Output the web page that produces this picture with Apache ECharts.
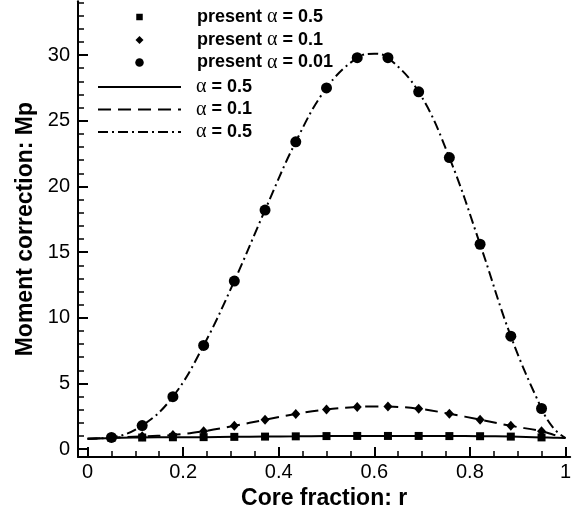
<!DOCTYPE html>
<html>
<head>
<meta charset="utf-8">
<script src="https://cdn.jsdelivr.net/npm/echarts@6/dist/echarts.min.js"></script>
<style>
html,body{margin:0;padding:0;background:#fff;}
#chart{width:574px;height:515px;}
</style>
</head>
<body>
<div id="chart"></div>
<script>
// ---- data ----
const rPoints = [0.05, 0.1143, 0.1786, 0.2429, 0.3071, 0.3714, 0.4357, 0.5, 0.5643, 0.6286, 0.6929, 0.7571, 0.8214, 0.8857, 0.95];
const presentA05  = [0.86, 0.89, 0.91, 0.92, 0.94, 0.96, 0.98, 1.0, 1.01, 1.01, 1.01, 1.0, 0.99, 0.96, 0.9];
const presentA01  = [0.88, 0.98, 1.08, 1.37, 1.78, 2.24, 2.68, 3.03, 3.22, 3.25, 3.08, 2.70, 2.25, 1.78, 1.37];
const presentA001 = [0.9, 1.8, 4.0, 7.9, 12.8, 18.2, 23.4, 27.5, 29.8, 29.8, 27.2, 22.2, 15.6, 8.6, 3.1];

const rCurve = [0, 0.05, 0.1143, 0.1786, 0.2429, 0.3071, 0.3714, 0.4357, 0.5, 0.5643, 0.6, 0.6286, 0.6929, 0.7571, 0.8214, 0.8857, 0.95, 0.975, 1];
const curveA05  = [0.8, 0.86, 0.89, 0.91, 0.92, 0.94, 0.96, 0.98, 1.0, 1.01, 1.01, 1.01, 1.01, 1.0, 0.99, 0.96, 0.9, 0.88, 0.85];
const curveA01  = [0.8, 0.88, 0.98, 1.08, 1.37, 1.78, 2.24, 2.68, 3.03, 3.22, 3.26, 3.25, 3.08, 2.70, 2.25, 1.78, 1.37, 1.1, 0.85];
const curveA001 = [0.8, 0.9, 1.8, 4.0, 7.9, 12.8, 18.2, 23.4, 27.5, 29.8, 30.1, 29.8, 27.2, 22.2, 15.6, 8.6, 3.1, 1.6, 0.85];

const legendLabels = ['present α = 0.5', 'present α = 0.1', 'present α = 0.01', 'α = 0.5', 'α = 0.1', 'α = 0.5'];
const seriesIds = ['m05', 'm01', 'm001', 'c05', 'c01', 'c001'];

const xMajorTicks = [0, 0.2, 0.4, 0.6, 0.8, 1];
const xMinorTicks = [0.05, 0.1, 0.15, 0.25, 0.3, 0.35, 0.45, 0.5, 0.55, 0.65, 0.7, 0.75, 0.85, 0.9, 0.95];
const yMajorTicks = [0, 5, 10, 15, 20, 25, 30];
const yMinorTicks = [1, 2, 3, 4, 6, 7, 8, 9, 11, 12, 13, 14, 16, 17, 18, 19, 21, 22, 23, 24, 26, 27, 28, 29, 31, 32, 33, 34];

const xTitle = 'Core fraction: r';
const yTitle = 'Moment correction: Mp';

// ---- build ----
function zip(xs, ys) { return xs.map((x, i) => [x, ys[i]]); }

const FONT = 'Liberation Sans, Arial, Helvetica, sans-serif';
const xRange = { min: -0.02, max: 1.01 };
const yRange = { min: -0.6, max: 34.1 };

function legendFormatter(id) {
  const label = legendLabels[seriesIds.indexOf(id)];
  const parts = label.split('α');
  return (parts[0] ? '{b|' + parts[0] + '}' : '') + '{a|α}' + '{b|' + parts[1] + '}';
}
const legendRich = {
  b: { fontFamily: FONT, fontWeight: 'bold', fontSize: 18, color: '#000', lineHeight: 20 },
  a: { fontFamily: 'Liberation Serif, serif', fontWeight: 'normal', fontSize: 20, color: '#000', lineHeight: 20 }
};
function markerLegend(id, symbolPx, top) {
  return {
    orient: 'vertical', left: 87, top: top, padding: 0,
    itemWidth: 105, itemHeight: symbolPx / 0.8, itemGap: 0,
    selectedMode: false,
    data: [{ name: id, lineStyle: { opacity: 0, width: 0 } }],
    formatter: legendFormatter,
    textStyle: { rich: legendRich }
  };
}

function markerSeries(id, ys, symbol, size, z) {
  return {
    name: id, type: 'line', xAxisIndex: 0, yAxisIndex: 0, data: zip(rPoints, ys),
    symbol: symbol, symbolSize: size, showSymbol: true, showAllSymbol: true,
    lineStyle: { opacity: 0, width: 0 }, itemStyle: { color: '#000', borderWidth: 0 }, z: z
  };
}

const option = {
  animation: false,
  backgroundColor: '#fff',
  grid: { left: 78, right: 0, top: 1.2, bottom: 55.8, containLabel: false },
  legend: [
    markerLegend('m05', 6.5, 7),
    markerLegend('m01', 8, 30),
    markerLegend('m001', 8.5, 52.5),
    {
      orient: 'vertical', left: 97, top: 77, padding: 0, itemWidth: 83, itemHeight: 6, itemGap: 2.5,
      selectedMode: false,
      data: [
        { name: 'c05', itemStyle: { opacity: 0 } },
        { name: 'c01', itemStyle: { opacity: 0 } },
        { name: 'c001', itemStyle: { opacity: 0 } }
      ],
      formatter: legendFormatter,
      textStyle: { rich: legendRich, padding: [0, 0, 0, 10] }
    }
  ],
  xAxis: [
    {
      type: 'value', min: xRange.min, max: xRange.max,
      name: xTitle, nameLocation: 'middle', nameGap: 29,
      nameTextStyle: { fontFamily: FONT, fontWeight: 'bold', fontSize: 23, color: '#000' },
      axisLine: { show: true, onZero: false, lineStyle: { color: '#000', width: 2 } },
      axisTick: { show: true, inside: true, length: 10, lineStyle: { color: '#000', width: 2 }, customValues: xMajorTicks },
      axisLabel: { show: true, inside: false, margin: 5, fontFamily: FONT, fontSize: 20, color: '#000', customValues: xMajorTicks },
      splitLine: { show: false }
    },
    {
      type: 'value', min: xRange.min, max: xRange.max, position: 'bottom', offset: 0,
      axisLine: { show: false, onZero: false },
      axisTick: { show: true, inside: true, length: 6, lineStyle: { color: '#000', width: 1.5 }, customValues: xMinorTicks },
      axisLabel: { show: false },
      splitLine: { show: false }
    }
  ],
  yAxis: [
    {
      type: 'value', min: yRange.min, max: yRange.max,
      name: yTitle, nameLocation: 'middle', nameGap: 41, nameRotate: 90,
      nameTextStyle: { fontFamily: FONT, fontWeight: 'bold', fontSize: 23, color: '#000' },
      axisLine: { show: true, onZero: false, lineStyle: { color: '#000', width: 2 } },
      axisTick: { show: true, inside: true, length: 10, lineStyle: { color: '#000', width: 2 }, customValues: yMajorTicks },
      axisLabel: { show: true, margin: 8, fontFamily: FONT, fontSize: 20, color: '#000', customValues: yMajorTicks },
      splitLine: { show: false }
    },
    {
      type: 'value', min: yRange.min, max: yRange.max, position: 'left', offset: 0,
      axisLine: { show: false, onZero: false },
      axisTick: { show: true, inside: true, length: 6, lineStyle: { color: '#000', width: 1.5 }, customValues: yMinorTicks },
      axisLabel: { show: false },
      splitLine: { show: false }
    }
  ],
  series: [
    {
      name: 'c05', type: 'line', xAxisIndex: 0, yAxisIndex: 0, data: zip(rCurve, curveA05),
      smooth: 0.4, symbol: 'none', showSymbol: false,
      lineStyle: { color: '#000', width: 2, type: 'solid' }, itemStyle: { color: '#000' }, z: 2
    },
    {
      name: 'c01', type: 'line', xAxisIndex: 0, yAxisIndex: 0, data: zip(rCurve, curveA01),
      smooth: 0.4, symbol: 'none', showSymbol: false,
      lineStyle: { color: '#000', width: 2, type: [13, 7] }, itemStyle: { color: '#000' }, z: 2
    },
    {
      name: 'c001', type: 'line', xAxisIndex: 0, yAxisIndex: 0, data: zip(rCurve, curveA001),
      smooth: 0.4, symbol: 'none', showSymbol: false,
      lineStyle: { color: '#000', width: 2, type: [10, 4, 2, 4] }, itemStyle: { color: '#000' }, z: 2
    },
    markerSeries('m05', presentA05, 'rect', 8, 3),
    markerSeries('m01', presentA01, 'diamond', [9, 10], 3),
    markerSeries('m001', presentA001, 'circle', 11, 4)
  ]
};

const chart = echarts.init(document.getElementById('chart'), null, { renderer: 'canvas' });
chart.setOption(option);
</script>
</body>
</html>
